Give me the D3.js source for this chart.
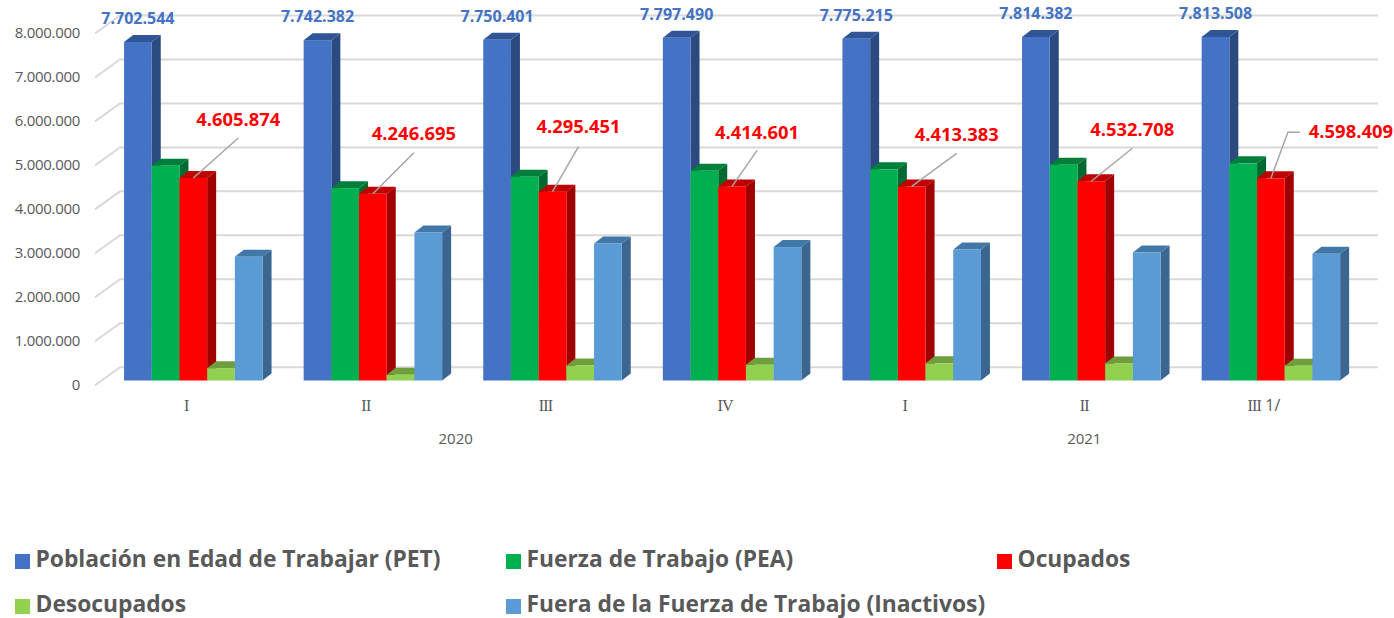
<!DOCTYPE html>
<html>
<head>
<meta charset="utf-8">
<script src="https://cdn.jsdelivr.net/npm/d3@7"></script>
<style>
  body { margin: 0; background: #fff; }
  text { font-family: "Open Sans", sans-serif; }
</style>
</head>
<body>
<svg id="chart" width="1394" height="618"></svg>
<script>
const quarters = ["I", "II", "III", "IV", "I", "II", "III 1/"];
const years = ["2020", "2021"];
const yearSpans = [[0, 3], [4, 6]];
const seriesNames = [
  "Población en Edad de Trabajar (PET)",
  "Fuerza de Trabajo (PEA)",
  "Ocupados",
  "Desocupados",
  "Fuera de la Fuerza de Trabajo (Inactivos)"
];
const pet = [7702544, 7742382, 7750401, 7797490, 7775215, 7814382, 7813508];
const pea = [4886000, 4375000, 4636000, 4773000, 4804000, 4909000, 4940000];
const ocupados = [4605874, 4246695, 4295451, 4414601, 4413383, 4532708, 4598409];
const desocupados = [280000, 128000, 340000, 358000, 391000, 388000, 337000];
const inactivos = [2816000, 3367000, 3118000, 3035000, 2980000, 2910000, 2885000];
const yTicks = [0, 1000000, 2000000, 3000000, 4000000, 5000000, 6000000, 7000000, 8000000];

const series = [pet, pea, ocupados, desocupados, inactivos];

// front, top and side faces of each series
const colors = [
  ["#4472c4", "#2f5597", "#2b4a80"],
  ["#00b050", "#007f3a", "#006a30"],
  ["#ff0000", "#c00000", "#a00000"],
  ["#92d050", "#6f9e3d", "#5f8734"],
  ["#5b9bd5", "#4278a8", "#3a668f"]
];

const svg = d3.select("#chart");
const grey = "#595959";
const fmt = d3.formatLocale({ decimal: ",", thousands: ".", grouping: [3], currency: ["", ""] }).format(",d");

const y = d3.scaleLinear().domain([0, 8000000]).range([380.5, 28.8]);
const x = d3.scaleBand().domain(d3.range(quarters.length)).range([103.5, 1360.7]);
const xBar = d3.scaleBand().domain(d3.range(series.length)).range([20.55, 159.05]);

const depthX = 9, depthY = 7;
const wallDy = 18;

// gridlines on the back wall plus the slanted bit on the floor side
const grid = svg.append("g");
yTicks.forEach(t => {
  const yy = y(t) - 13.3;
  grid.append("path")
    .attr("d", `M95,${yy + wallDy} L120,${yy} L1378,${yy}`)
    .attr("fill", "none")
    .attr("stroke", "#d9d9d9")
    .attr("stroke-width", 2);
});

const yAxis = svg.append("g")
  .attr("transform", "translate(80,4)")
  .call(d3.axisLeft(y).tickValues(yTicks).tickFormat(fmt).tickSize(0).tickPadding(0));
yAxis.select(".domain").remove();
yAxis.selectAll("text")
  .attr("font-size", 15)
  .attr("letter-spacing", -0.3)
  .attr("fill", grey);

const xAxis = svg.append("g")
  .attr("transform", "translate(-7,393.5)")
  .call(d3.axisBottom(x).tickFormat(i => quarters[i]).tickSize(0).tickPadding(6));
xAxis.select(".domain").remove();
xAxis.selectAll("text")
  .attr("font-size", 16)
  .attr("fill", grey)
  .attr("letter-spacing", -0.8)
  .style("font-family", "'Liberation Serif', serif");

// the "1/" footnote mark of the last quarter is in the plain font
xAxis.selectAll(".tick text").filter(i => quarters[i].includes(" ")).each(function(i) {
  const parts = quarters[i].split(" ");
  const t = d3.select(this).text(null);
  t.append("tspan").text(parts[0]);
  t.append("tspan")
    .style("font-family", "'Open Sans', sans-serif")
    .attr("letter-spacing", 0)
    .text(" " + parts[1]);
});

svg.selectAll(".year")
  .data(years)
  .enter()
  .append("text")
  .attr("class", "year")
  .attr("x", (d, i) => (x(yearSpans[i][0]) + x(yearSpans[i][1]) + x.bandwidth()) / 2 - 7)
  .attr("y", 444)
  .attr("text-anchor", "middle")
  .attr("font-size", 15)
  .attr("fill", grey)
  .text(d => d);

// bars, left to right so each one covers its left neighbour's side face
const base = y(0);
const w = xBar.bandwidth();
quarters.forEach((q, i) => {
  const g = svg.append("g").attr("transform", `translate(${x(i)},0)`);
  series.forEach((vals, s) => {
    const x0 = xBar(s), x1 = x0 + w, top = y(vals[i]);
    g.append("path")
      .attr("d", `M${x1},${top} L${x1 + depthX},${top - depthY} L${x1 + depthX},${base - depthY} L${x1},${base} Z`)
      .attr("fill", colors[s][2]);
    g.append("path")
      .attr("d", `M${x0},${top} L${x0 + depthX},${top - depthY} L${x1 + depthX},${top - depthY} L${x1},${top} Z`)
      .attr("fill", colors[s][1]);
    g.append("rect")
      .attr("x", x0)
      .attr("y", top)
      .attr("width", w)
      .attr("height", base - top)
      .attr("fill", colors[s][0]);
  });
});

// PET labels
svg.selectAll(".pet-label")
  .data(pet)
  .enter()
  .append("text")
  .attr("class", "pet-label")
  .attr("x", (d, i) => x(i) + xBar(0) + w / 2)
  .attr("y", d => y(d) - 18)
  .attr("text-anchor", "middle")
  .attr("font-size", 16)
  .attr("font-weight", 700)
  .attr("fill", "#4472c4")
  .text(fmt);

// Ocupados labels sit where they were dragged by hand, with a leader line
const leaderEnds = [[45, -40], [41, -41], [26, -45], [25, -36], [45, -33], [41, -33], [17, -46]];
const labelShift = [[0, -12], [0, -13], [0, -14], [0, -11], [0, -12], [0, -12], [63, 6]];

ocupados.forEach((v, i) => {
  const sx = x(i) + xBar(2) + w / 2, sy = y(v);
  const [dx, dy] = leaderEnds[i];
  let d = `M${sx},${sy} L${sx + dx},${sy + dy}`;
  if (i === 6) d += ` l12,0`;
  svg.append("path")
    .attr("d", d)
    .attr("fill", "none")
    .attr("stroke", "#a6a6a6")
    .attr("stroke-width", 1.5);
  svg.append("text")
    .attr("x", sx + dx + labelShift[i][0])
    .attr("y", sy + dy + labelShift[i][1])
    .attr("text-anchor", "middle")
    .attr("font-size", 18.4)
    .attr("font-weight", 700)
    .attr("fill", "#ff0000")
    .text(fmt(v));
});

// legend
const legendX = [15, 506, 997, 15, 506];
const legendY = [554, 554, 554, 599, 599];
const legend = svg.selectAll(".legend")
  .data(seriesNames)
  .enter()
  .append("g")
  .attr("class", "legend")
  .attr("transform", (d, i) => `translate(${legendX[i]},${legendY[i]})`);
legend.append("rect")
  .attr("width", 15)
  .attr("height", 15)
  .attr("fill", (d, i) => colors[i][0]);
legend.append("text")
  .attr("x", 20.5)
  .attr("y", 13)
  .attr("font-size", 22.8)
  .attr("font-weight", 700)
  .attr("fill", grey)
  .text(d => d);
</script>
</body>
</html>
